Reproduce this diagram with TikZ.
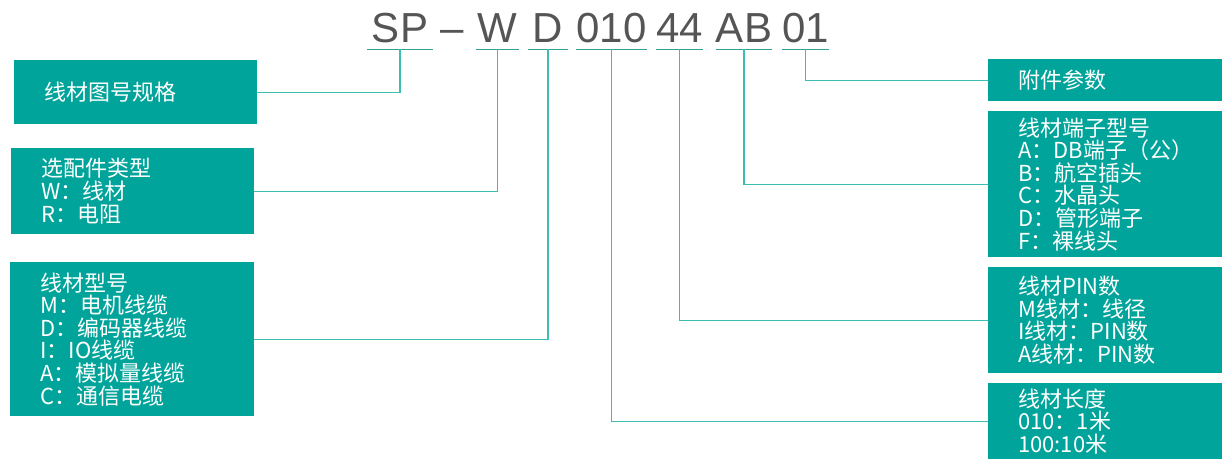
\documentclass[tikz,border=0pt]{standalone}
\usepackage{fontspec}
\setmainfont{Liberation Sans}
\newfontfamily\cjkfont{Noto Sans CJK SC}
\usetikzlibrary{positioning,calc}
\definecolor{boxteal}{RGB}{0,164,154}
\definecolor{linkteal}{RGB}{60,190,180}
\definecolor{codegray}{RGB}{85,85,85}

\begin{document}
\begin{tikzpicture}[x=1pt, y=-1pt,
  every node/.style = {inner sep=0pt},
  info/.style  = {rectangle, fill=boxteal, text=white, anchor=north west,
                  align=left, inner xsep=30pt, inner ysep=0pt,
                  font=\cjkfont\fontsize{22pt}{22.6pt}\selectfont},
  code/.style  = {anchor=base, text depth=0pt, inner ysep=7pt,
                  text=codegray, font=\fontsize{42pt}{42pt}\selectfont},
  link/.style  = {draw=linkteal, line width=1.4pt},
  uline/.style = {draw=linkteal!85!black, line width=1.4pt},
]
  \useasboundingbox (0,0) rectangle (1222,459);

  % left boxes
  \node[info, text width=183pt, minimum height=64pt] (spec) at (14,60)
    {线材图号规格};
  \node[info, text width=183pt, minimum height=86pt] (opt) at (11,148)
    {选配件类型\\W：线材\\R：电阻};
  \node[info, text width=184pt, minimum height=154pt] (wire) at (10,262)
    {线材型号\\M：电机线缆\\D：编码器线缆\\I：IO线缆\\A：模拟量线缆\\C：通信电缆};

  % right boxes
  \node[info, text width=174pt, minimum height=42pt] (attach) at (988,59)
    {附件参数};
  \node[info, text width=174pt, minimum height=146pt] (term) at (988,111)
    {线材端子型号\\A：DB端子（公）\\B：航空插头\\C：水晶头\\D：管形端子\\F：裸线头};
  \node[info, text width=174pt, minimum height=106pt] (pin) at (988,267)
    {线材PIN数\\M线材：线径\\I线材：PIN数\\A线材：PIN数};
  \node[info, text width=174pt, minimum height=76pt] (len) at (988,383)
    {线材长度\\010：1米\\100:10米};

  % model code
  \node[code, minimum width=66pt] (cSP) at (400,42) {SP};
  \node[code] (dash) at (452,42) {\textendash};
  \node[code, minimum width=43pt] (cW) at (497.5,42) {W};
  \node[code, minimum width=40pt] (cD) at (548,42) {D};
  \node[code, minimum width=69pt] (cLen) at (611.5,42) {010};
  \node[code, minimum width=45pt] (cPin) at (679.5,42) {44};
  \node[code, minimum width=56pt] (cAB) at (744,42) {AB};
  \node[code, minimum width=35pt] (c01) at (805.5,42) {01};

  \foreach \c in {cSP,cW,cD,cLen,cPin,cAB,c01}
    \draw[uline] (\c.south west) -- (\c.south east);

  \draw[link] (cSP.south) |- (spec.east);
  \draw[link] (cW.south) |- (opt.east);
  \draw[link] (cD.south) |- (wire.east);
  \draw[link] (cLen.south) |- (len.west);
  \draw[link] (cPin.south) |- (pin.west);
  \draw[link] (cAB.south) |- (term.west);
  \draw[link] (c01.south) |- (attach.west);
\end{tikzpicture}
\end{document}
